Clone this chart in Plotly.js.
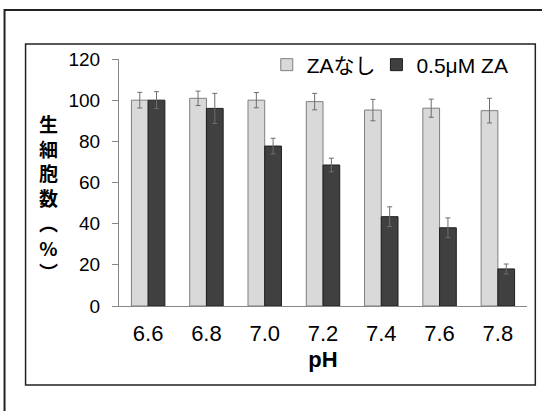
<!DOCTYPE html>
<html>
<head>
<meta charset="utf-8">
<script src="https://cdn.plot.ly/plotly-3.0.1.min.js"></script>
<style>
html,body{margin:0;padding:0;background:#fff;}
#chart{width:542px;height:411px;}
</style>
</head>
<body>
<div id="chart"></div>
<script>
// ---- data ----
const categories = ['6.6', '6.8', '7.0', '7.2', '7.4', '7.6', '7.8'];
const seriesNames = ['ZAなし', '0.5μM ZA'];
const controlValues = [100, 100.9, 100.0, 99.3, 95.2, 96.1, 94.9];
const controlErrors = [3.8, 3.5, 3.7, 4.0, 5.2, 4.4, 6.0];
const zaValues = [100, 96.0, 77.7, 68.5, 43.4, 38.0, 18.0];
const zaErrors = [4.1, 7.3, 3.8, 3.3, 4.8, 4.8, 2.4];
const yTicks = [0, 20, 40, 60, 80, 100, 120];
const yTitleChars = ['生', '細', '胞', '数', '︵', '%', '︶'];

// ---- layout geometry (pixels) ----
const W = 542, H = 411;
const M = {l: 119.3, r: 15.3, t: 59, b: 105};
const PW = W - M.l - M.r, PH = H - M.t - M.b;
const px = x => (x - M.l) / PW;
const py = y => (H - M.b - y) / PH;

const FONT = 'Liberation Sans, Arial, "Noto Sans CJK JP", sans-serif';

const traces = [
  {
    type: 'bar', name: seriesNames[0], x: categories, y: controlValues,
    marker: {color: '#d9d9d9', line: {color: '#7f7f7f', width: 1}},
    error_y: {type: 'data', array: controlErrors, visible: true, color: '#6e6e6e', thickness: 1, width: 2.5},
    legend: 'legend'
  },
  {
    type: 'bar', name: seriesNames[1], x: categories, y: zaValues,
    marker: {color: '#404040', line: {color: '#1e1e1e', width: 1}},
    error_y: {type: 'data', array: zaErrors, visible: true, color: '#6e6e6e', thickness: 1, width: 2.5},
    legend: 'legend2'
  }
];

const annotations = [
  {text: yTitleChars.join('<br>'), xref: 'paper', yref: 'paper', x: px(49), y: py(108),
   xanchor: 'center', yanchor: 'top', showarrow: false,
   font: {family: '"Noto Sans CJK JP", sans-serif', size: 19, color: '#000', weight: 'bold'}}
];

const shapes = [
  {type: 'rect', xref: 'paper', yref: 'paper', x0: px(5), y0: py(10), x1: px(600), y1: py(460),
   line: {color: '#222', width: 2}, fillcolor: 'rgba(0,0,0,0)', layer: 'below'},
  {type: 'rect', xref: 'paper', yref: 'paper', x0: px(26), y0: py(44), x1: px(535), y1: py(385),
   line: {color: '#222', width: 1.5}, fillcolor: 'rgba(0,0,0,0)', layer: 'below'}
];

const legendCommon = {
  orientation: 'h', yanchor: 'middle', xanchor: 'left',
  font: {family: FONT, size: 21, color: '#000'},
  bgcolor: 'rgba(0,0,0,0)', borderwidth: 0
};

const layout = {
  width: W, height: H,
  margin: M,
  paper_bgcolor: '#fff', plot_bgcolor: '#fff',
  font: {family: FONT, color: '#000'},
  barmode: 'group', bargap: 0.426, bargroupgap: 0,
  showlegend: true,
  legend: Object.assign({}, legendCommon, {x: px(266.85), y: py(65)}),
  legend2: Object.assign({}, legendCommon, {x: px(376.35), y: py(65)}),
  xaxis: {
    type: 'category', range: [-0.5, 6.5], automargin: false,
    showline: true, linecolor: '#868686', linewidth: 1,
    ticks: '', showgrid: false, zeroline: false,
    tickfont: {family: FONT, size: 22, color: '#000'},
    ticklabelstandoff: 8,
    title: {text: '<b>pH</b>', font: {family: FONT, size: 22, color: '#000'}, standoff: 6}
  },
  yaxis: {
    range: [0, 120], tickvals: yTicks, automargin: false,
    showline: true, linecolor: '#868686', linewidth: 1,
    ticks: 'outside', ticklen: 6, tickcolor: '#868686', tickwidth: 1,
    showgrid: false, zeroline: false,
    tickfont: {family: FONT, size: 19, color: '#000'},
    ticklabelstandoff: 8
  },
  annotations: annotations,
  shapes: shapes
};

Plotly.newPlot('chart', traces, layout, {displayModeBar: false, staticPlot: true});
</script>
</body>
</html>
